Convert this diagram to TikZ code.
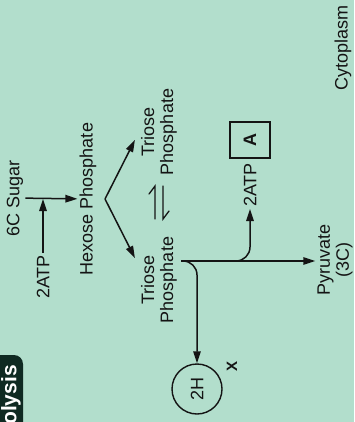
\documentclass[tikz,border=0pt]{standalone}
\usepackage{fontspec}
\setmainfont{Liberation Sans}
\usetikzlibrary{arrows.meta, calc}
\definecolor{mint}{HTML}{B2DECC}
\definecolor{ink}{HTML}{141414}
\definecolor{tagbg}{HTML}{0F2A22}

\begin{document}
\begin{tikzpicture}[
    x=1pt, y=-1pt,
    every node/.style={rotate=90, text=ink, font=\fontsize{18}{19}\selectfont, inner sep=2pt},
    >={Triangle[length=12pt, width=7.5pt]},
    flow/.style={->, line width=1.5pt, draw=ink},
    twoline/.style={align=center},
]

% === Background ===
\useasboundingbox (0,0) rectangle (354,422);
\clip (0,0) rectangle (354,422);
\fill[mint] (0,0) rectangle (354,422);

% === Glycolysis tag (cut at the edge) ===
\fill[tagbg, rounded corners=9pt] (-12,355) rectangle (23,440);
\node[anchor=east, inner sep=0pt, text=white, font=\fontsize{21}{22}\selectfont\bfseries] (tag) at (11,365) {Glycolysis};

% === Sugar and hexose ===
\node (sugar) at (15,198) {6C Sugar};
\node (hexose) at (88,199) {Hexose Phosphate};
\node (atpin) at (43,277) {2ATP};
\coordinate (merge) at (43,199);
\draw[flow] (sugar) -- (hexose);
\draw[flow] (atpin) -- (merge);

% === Triose phosphates ===
\node[twoline] (triup) at (159,132) {Triose\\Phosphate};
\node[twoline] (trilow) at (159,280) {Triose\\Phosphate};
\coordinate (fork) at (105,199);
\draw[flow] (fork) -- ($(triup.north)+(-4,8)$);
\draw[flow] (fork) -- ($(trilow.north)+(-4,-22)$);

% equilibrium harpoons
\draw[line width=1.3pt, ink, line cap=round, line join=miter] (155,219) -- (155,186) -- (149,194);
\draw[line width=1.3pt, ink, line cap=round, line join=miter] (163,186) -- (163,219) -- (169,211);

% === Products ===
\node (atpout) at (250,185) {2ATP};
\node[draw=ink, line width=1.4pt, minimum width=36pt, minimum height=40pt,
      font=\fontsize{18}{19}\selectfont\bfseries] (boxA) at (250,140) {A};
\node[twoline] (pyruvate) at (335,260) {Pyruvate\\(3C)};
\node[circle, draw=ink, line width=1.4pt, minimum size=50pt] (hydrogen) at (197,389) {2H};
\node[font=\fontsize{15}{16}\selectfont\bfseries] (xmark) at (232,366) {X};
\node (cyto) at (343,48) {Cytoplasm};

% === Branches from lower triose ===
\coordinate (split) at ($(trilow.south)+(2,-19)$);
\coordinate (tap) at ($(split)+(53,0)$);
\draw[flow] (split) -- (split -| pyruvate.north);
\draw[flow, rounded corners=14pt] (split) -| (hydrogen);
\draw[flow, rounded corners=14pt] (tap) -| (atpout);

\end{tikzpicture}
\end{document}
